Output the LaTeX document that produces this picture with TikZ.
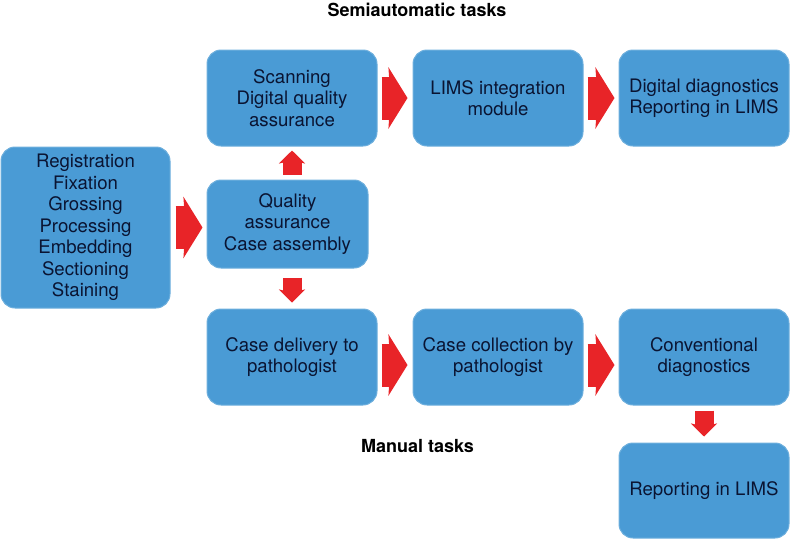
\documentclass[tikz,border=0pt]{standalone}
\usepackage{fontspec}
\setmainfont{TeX Gyre Heros}
\usepackage{xcolor}
\usetikzlibrary{arrows.meta}
\definecolor{boxblue}{RGB}{74,155,213}
\definecolor{arrowred}{RGB}{232,36,40}
\definecolor{textnavy}{RGB}{10,20,50}

\begin{document}
\begin{tikzpicture}[x = 1pt, y = -1pt,
  box/.style = {fill = boxblue, draw = boxblue!80!white, line width = 1pt, rounded corners = 14pt,
    align = center, text = textnavy, inner sep = 0pt, font = \fontsize{18.6}{21.5}\selectfont},
  hbar/.style = {arrowred, line width = 43pt, -{Stealth[width = 61pt, length = 19pt, inset = 2pt]}},
  vbar/.style = {arrowred, line width = 19pt, -{Stealth[width = 26pt, length = 13pt, inset = 3pt]}},
  title/.style = {font = \fontsize{18}{21.5}\selectfont\bfseries}]
  \useasboundingbox (0, 0) rectangle (790, 542);
  % boxes
  \node [box, minimum width = 169pt, minimum height = 161pt] (reg) at (85.5, 227.5)
    {Registration\\Fixation\\Grossing\\Processing\\Embedding\\Sectioning\\Staining};
  \node [box, minimum width = 161pt, minimum height = 88pt] (qa) at (287.5, 224)
    {Quality\\assurance\\Case assembly};
  \node [box, minimum width = 170pt, minimum height = 96pt] (scan) at (292, 98)
    {Scanning\\Digital quality\\assurance};
  \node [box, minimum width = 170pt, minimum height = 96pt] (lims) at (498, 98)
    {LIMS integration\\module};
  \node [box, minimum width = 170pt, minimum height = 96pt] (digdx) at (704, 98)
    {Digital diagnostics\\Reporting in LIMS};
  \node [box, minimum width = 170pt, minimum height = 96pt] (deliv) at (292, 357)
    {Case delivery to\\pathologist};
  \node [box, minimum width = 170pt, minimum height = 96pt] (collect) at (498, 357)
    {Case collection by\\pathologist};
  \node [box, minimum width = 170pt, minimum height = 96pt] (convdx) at (704, 357)
    {Conventional\\diagnostics};
  \node [box, minimum width = 170pt, minimum height = 95pt] (report) at (704, 490.5)
    {Reporting in LIMS};
  % titles
  \node [title] (semi) at (417, 10) {Semiautomatic tasks};
  \node [title] (manual) at (417.5, 446) {Manual tasks};
  % arrows
  \draw [hbar, shorten <= 5pt, shorten >= 4pt] (reg.east) -- (reg.east -| qa.west);
  \draw [hbar, shorten <= 4pt, shorten >= 5pt] (scan) -- (lims);
  \draw [hbar, shorten <= 4pt, shorten >= 4pt] (lims) -- (digdx);
  \draw [hbar, shorten <= 4pt, shorten >= 5pt] ([yshift = -8pt] deliv.east) -- ([yshift = -8pt] collect.west);
  \draw [hbar, shorten <= 4pt, shorten >= 4pt] ([yshift = -8pt] collect.east) -- ([yshift = -8pt] convdx.west);
  \draw [vbar, shorten <= 5pt, shorten >= 4pt] (scan.south |- qa.north) -- (scan.south);
  \draw [vbar, shorten <= 9pt, shorten >= 6pt] (deliv.north |- qa.south) -- (deliv.north);
  \draw [vbar, shorten <= 5pt, shorten >= 6pt] (convdx.south) -- (report.north);
\end{tikzpicture}
\end{document}
